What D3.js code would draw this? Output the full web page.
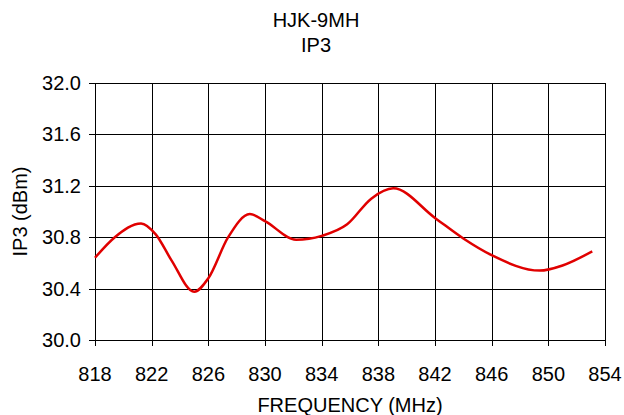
<!DOCTYPE html>
<html>
<head>
<meta charset="utf-8">
<script src="https://cdn.jsdelivr.net/npm/d3@7"></script>
<style>
  body { margin: 0; background: #fff; }
  text { font-family: "Liberation Sans", Arial, sans-serif; fill: #000; }
</style>
</head>
<body>
<script>
(function(){

    //chart data
    var freqs = [818, 819.4, 821.25, 822.3, 823.4, 825.0, 826.0, 827.4, 828.93, 830.0, 832.2, 834, 835.8, 837.5, 839.05, 842, 844, 846, 849.4, 851, 853.1];
    var ip3   = [30.64, 30.80, 30.907, 30.82, 30.62, 30.375, 30.48, 30.80, 30.98, 30.925, 30.78, 30.81, 30.90, 31.10, 31.18, 30.95, 30.79, 30.66, 30.54, 30.58, 30.69];
    var xTicks = [818, 822, 826, 830, 834, 838, 842, 846, 850, 854];
    var yTicks = [30.0, 30.4, 30.8, 31.2, 31.6, 32.0];

    var width = 624, height = 415;
    var margin = {left: 95, right: 19, top: 83, bottom: 75};
    var fs = "20px";

    var svg = d3.select("body")
        .append("svg")
        .attr("width", width)
        .attr("height", height);

    var x = d3.scaleLinear()
        .domain([818, 854])
        .range([margin.left, width - margin.right]);

    var y = d3.scaleLinear()
        .domain([30, 32])
        .range([height - margin.bottom, margin.top]);

    //grid lines
    svg.selectAll(".vgrid")
        .data(xTicks)
        .enter()
        .append("line")
        .attr("class", "vgrid")
        .attr("x1", function(d){ return Math.round(x(d)) + 0.5; })
        .attr("x2", function(d){ return Math.round(x(d)) + 0.5; })
        .attr("y1", y(32))
        .attr("y2", y(30) + 6)
        .attr("stroke", "#000")
        .attr("stroke-width", 1);

    svg.selectAll(".hgrid")
        .data(yTicks)
        .enter()
        .append("line")
        .attr("class", "hgrid")
        .attr("x1", x(818) - 6)
        .attr("x2", x(854))
        .attr("y1", function(d){ return Math.round(y(d)) + 0.5; })
        .attr("y2", function(d){ return Math.round(y(d)) + 0.5; })
        .attr("stroke", "#000")
        .attr("stroke-width", 1);

    //tick labels
    svg.selectAll(".xlab")
        .data(xTicks)
        .enter()
        .append("text")
        .attr("x", function(d){ return x(d); })
        .attr("y", y(30) + 41)
        .attr("text-anchor", "middle")
        .style("font-size", fs)
        .text(function(d){ return d; });

    svg.selectAll(".ylab")
        .data(yTicks)
        .enter()
        .append("text")
        .attr("x", x(818) - 14)
        .attr("y", function(d){ return y(d) + 7; })
        .attr("text-anchor", "end")
        .style("font-size", fs)
        .text(function(d){ return d.toFixed(1); });

    //titles
    svg.append("text")
        .attr("x", 316)
        .attr("y", 27)
        .attr("text-anchor", "middle")
        .style("font-size", fs)
        .text("HJK-9MH");

    svg.append("text")
        .attr("x", 316)
        .attr("y", 52)
        .attr("text-anchor", "middle")
        .style("font-size", fs)
        .text("IP3");

    svg.append("text")
        .attr("x", (x(818) + x(854)) / 2)
        .attr("y", 412)
        .attr("text-anchor", "middle")
        .style("font-size", fs)
        .text("FREQUENCY (MHz)");

    svg.append("text")
        .attr("transform", "translate(27," + ((y(30) + y(32)) / 2) + ") rotate(-90)")
        .attr("text-anchor", "middle")
        .style("font-size", fs)
        .text("IP3 (dBm)");

    //data line
    var line = d3.line()
        .x(function(d, i){ return x(freqs[i]); })
        .y(function(d){ return y(d); })
        .curve(d3.curveMonotoneX);

    svg.append("path")
        .datum(ip3)
        .attr("d", line)
        .attr("fill", "none")
        .attr("stroke", "#e00000")
        .attr("stroke-width", 2.5);

})();
</script>
</body>
</html>
